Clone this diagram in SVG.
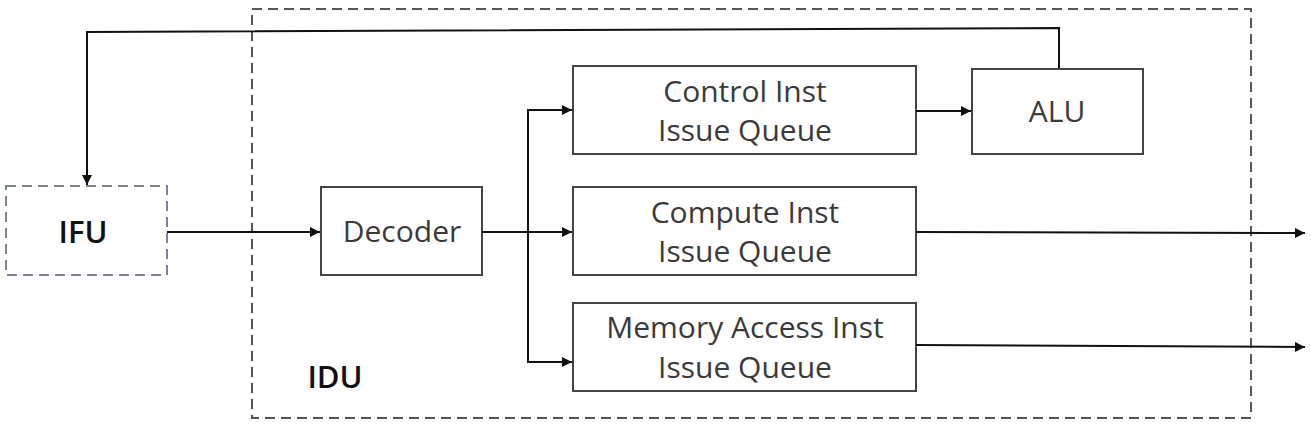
<svg xmlns="http://www.w3.org/2000/svg" width="1311" height="427" viewBox="0 0 1311 427">
<defs>
<marker id="arr" viewBox="0 0 10 10" refX="10" refY="5" markerWidth="10" markerHeight="10" markerUnits="userSpaceOnUse" orient="auto">
<path d="M0,0 L10,5 L0,10 z" fill="#111"/>
</marker>
</defs>
<style>
.box{fill:#fff;stroke:#444;stroke-width:2}
.t{font-family:"Open Sans","Noto Sans",sans-serif;font-size:30px;fill:#3a3a3a;text-anchor:middle}
.b{font-family:"Open Sans","Noto Sans",sans-serif;font-size:31px;font-weight:600;fill:#111;text-anchor:middle}
.c{fill:none;stroke:#111;stroke-width:2}
</style>
<rect width="1311" height="427" fill="#fff"/>
<g id="idu">
<rect x="252" y="9" width="999" height="409" fill="none" stroke="#555" stroke-width="2" stroke-dasharray="10,6"/>
<text class="b" x="335" y="388">IDU</text>
</g>
<g id="ifu">
<rect x="6" y="186" width="161" height="89" fill="#fff" stroke="#7a8494" stroke-width="2" stroke-dasharray="10,6"/>
<text class="b" x="83" y="243">IFU</text>
</g>
<g id="decoder">
<rect class="box" x="321" y="187" width="161" height="88"/>
<text class="t" x="402" y="242">Decoder</text>
</g>
<g id="ctrl">
<rect class="box" x="573" y="66" width="343" height="88"/>
<text class="t" x="745" y="102">Control Inst</text>
<text class="t" x="745" y="141">Issue Queue</text>
</g>
<g id="alu">
<rect class="box" x="972" y="69" width="171" height="85"/>
<text class="t" x="1057" y="122">ALU</text>
</g>
<g id="comp">
<rect class="box" x="573" y="187" width="343" height="88"/>
<text class="t" x="745" y="223">Compute Inst</text>
<text class="t" x="745" y="262">Issue Queue</text>
</g>
<g id="mem">
<rect class="box" x="573" y="303" width="343" height="88"/>
<text class="t" x="745" y="338">Memory Access Inst</text>
<text class="t" x="745" y="378">Issue Queue</text>
</g>
<g id="connectors">
<path class="c" d="M1059,68 L1059,28 L87,32 L87,185" marker-end="url(#arr)"/>
<path class="c" d="M167,232 L320,232" marker-end="url(#arr)"/>
<path class="c" d="M482,232 L572,232" marker-end="url(#arr)"/>
<path class="c" d="M528,232 L528,110 L572,110" marker-end="url(#arr)"/>
<path class="c" d="M528,232 L528,362 L572,362" marker-end="url(#arr)"/>
<path class="c" d="M916,111 L971,111" marker-end="url(#arr)"/>
<path class="c" d="M916,232 L1305,233" marker-end="url(#arr)"/>
<path class="c" d="M916,345 L1305,347" marker-end="url(#arr)"/>
</g>
</svg>
